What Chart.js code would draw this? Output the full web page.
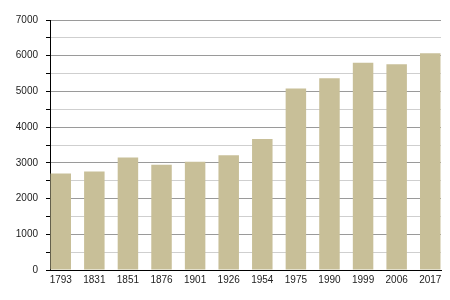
<!DOCTYPE html>
<html>
<head>
<meta charset="utf-8">
<script src="https://cdn.jsdelivr.net/npm/chart.js@4"></script>
<style>
  html, body { margin: 0; padding: 0; background: #fff; }
  #wrap { width: 450px; height: 300px; }
</style>
</head>
<body>
<div id="wrap"><canvas id="popChart" width="450" height="300"></canvas></div>
<script>
const years = ['1793', '1831', '1851', '1876', '1901', '1926', '1954', '1975', '1990', '1999', '2006', '2017'];
const population = [2700, 2760, 3150, 2950, 3030, 3210, 3670, 5080, 5370, 5800, 5760, 6070];
const yMax = 7000;
const yStep = 500;

Chart.defaults.font.family = '"Liberation Sans", Arial, sans-serif';
Chart.defaults.font.size = 10;
Chart.defaults.color = '#222';

const popChart = new Chart(
    document.getElementById('popChart'),
    {
        type: 'bar',
        data: {
            labels: years,
            datasets: [{
                label: 'Population',
                data: population,
                backgroundColor: '#c8bf98',
                borderWidth: 0,
                categoryPercentage: 1,
                barPercentage: 0.61
            }]
        },
        options: {
            responsive: false,
            animation: false,
            layout: {
                padding: { left: 0, right: 9, top: 20, bottom: 0 }
            },
            plugins: {
                legend: { display: false },
                tooltip: { enabled: false }
            },
            scales: {
                x: {
                    grid: { display: false, drawTicks: false },
                    border: { color: '#000', width: 1 },
                    ticks: { padding: 4, maxRotation: 0, autoSkip: false },
                    // bars sit closer to both ends than a plain half-category offset
                    afterBuildTicks: (scale) => {
                        scale._startValue = -0.32;
                        scale._valueRange = years.length - 1 + 0.64;
                    },
                    afterFit: (scale) => { scale.height = 30; }
                },
                y: {
                    min: 0,
                    max: yMax,
                    ticks: {
                        stepSize: yStep,
                        padding: 8,
                        callback: (v) => (v % 1000 === 0 ? String(v) : '')
                    },
                    grid: {
                        color: (ctx) => (ctx.tick && ctx.tick.value % 1000 === 0 ? '#9a9a9a' : '#cfcfcf'),
                        tickColor: '#000',
                        tickLength: 4,
                        lineWidth: 1
                    },
                    border: { color: '#000', width: 1 },
                    afterFit: (scale) => { scale.width = 50; }
                }
            }
        }
    }
);
</script>
</body>
</html>
